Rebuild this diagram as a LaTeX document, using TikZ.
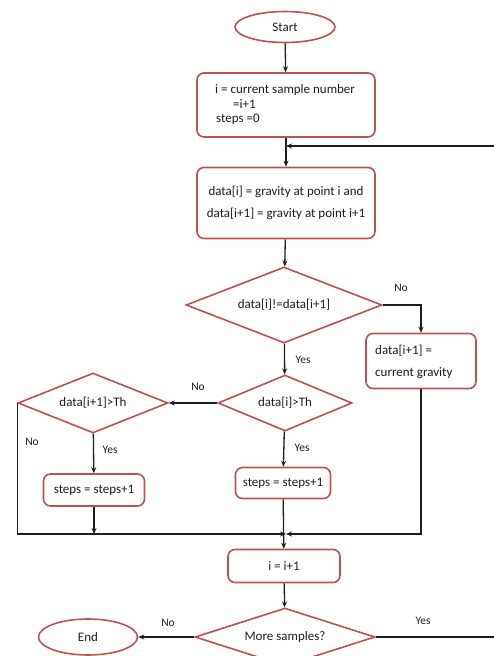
\documentclass[tikz,border=0pt]{standalone}
\usepackage{fontspec}
\setmainfont{Carlito}
\usetikzlibrary{shapes.geometric,arrows.meta}
\definecolor{edgered}{RGB}{192,80,77}
\definecolor{ink}{RGB}{30,30,30}
\tikzset{
  txt/.style={font=\fontsize{13}{16}\selectfont,text=ink},
  arr/.style={draw=ink,line width=1.3pt,-{Stealth[length=6pt,width=5pt]}},
  procbox/.style={draw=edgered,line width=1.6pt,rounded corners=7pt,fill=white,
    inner sep=0pt,txt},
  decision/.style={diamond,draw=edgered,line width=1.6pt,fill=white,inner sep=0pt,txt},
  terminal/.style={ellipse,draw=edgered,line width=1.6pt,fill=white,inner sep=0pt,txt},
  lbl/.style={font=\fontsize{11.5}{13}\selectfont,text=ink,inner sep=0pt},
  boxline/.style={txt,anchor=west,inner sep=0pt}
}
\begin{document}
\begin{tikzpicture}[x=1pt,y=-1pt]
\useasboundingbox (0,0) rectangle (494,656);

% process steps down the middle column
\node[terminal,minimum width=100pt,minimum height=31pt] (start) at (285,27) {Start};
\node[procbox,minimum width=178pt,minimum height=64pt] (init) at (286,105) {};
\node[boxline] (initA) at (215,90) {i = current sample number};
\node[boxline] (initB) at (233,104) {=i+1};
\node[boxline] (initC) at (216,119) {steps =0};
\node[procbox,minimum width=178pt,minimum height=71pt,align=center] (read) at (286,203)
  {data[i] = gravity at point i and\\[6pt] data[i+1] = gravity at point i+1};
\node[decision,aspect=2.58,minimum width=196pt,minimum height=76pt] (diff) at (284,305) {data[i]!=data[i+1]};
\node[procbox,minimum width=110pt,minimum height=55pt] (upd) at (421,361) {};
\node[boxline] (updA) at (375,351) {data[i+1] =};
\node[boxline] (updB) at (375,373) {current gravity};
\node[decision,aspect=2.4,minimum width=134pt,minimum height=56pt] (thr) at (285,403) {data[i]>Th};
\node[decision,aspect=2.5,minimum width=150pt,minimum height=60pt] (thrn) at (93,403) {data[i+1]>Th};
\node[procbox,minimum width=101pt,minimum height=32pt] (incA) at (94,490) {steps = steps+1};
\node[procbox,minimum width=95pt,minimum height=31pt] (incB) at (283,483) {steps = steps+1};
\node[procbox,minimum width=112pt,minimum height=33pt] (next) at (284,566) {i = i+1};
\node[decision,aspect=3.1,minimum width=180pt,minimum height=58pt] (more) at (285,637) {More samples?};
\node[terminal,minimum width=99pt,minimum height=36pt] (stop) at (88,637) {End};

% junction points
\coordinate (loopJ) at (286,146);
\coordinate (loopR) at (497,146);
\coordinate (mergeJ) at (286,534);
\coordinate (incAJ) at (94,534);

% connectors
\draw[arr] (start) -- (init);
\draw[arr] (init) -- (read);
\draw[arr] (read) -- (diff);
\draw[arr] (diff.east) -| (upd.north);
\node[lbl] at (401,288) {No};
\draw[arr] (diff) -- (thr);
\node[lbl] at (303,360) {Yes};
\draw[arr] (thr.west) -- (thrn.east);
\node[lbl] at (198,387) {No};
\draw[arr] (thrn) -- (incA);
\node[lbl] at (110,450) {Yes};
\draw[arr] (thr) -- (incB);
\node[lbl] at (302,448) {Yes};
\draw[arr] (thrn.west) |- (mergeJ);
\node[lbl] at (32,442) {No};
\draw[arr] (incA) -- (incAJ);
\draw[arr] (upd.south) |- (mergeJ);
\draw[arr] (incB) -- (next);
\draw[arr] (next) -- (more);
\draw[arr] (more) -- (stop);
\node[lbl] at (168,623) {No};
\draw[arr] (more.east) -| (loopR) -- (loopJ);
\node[lbl] at (423,621) {Yes};
\end{tikzpicture}
\end{document}
